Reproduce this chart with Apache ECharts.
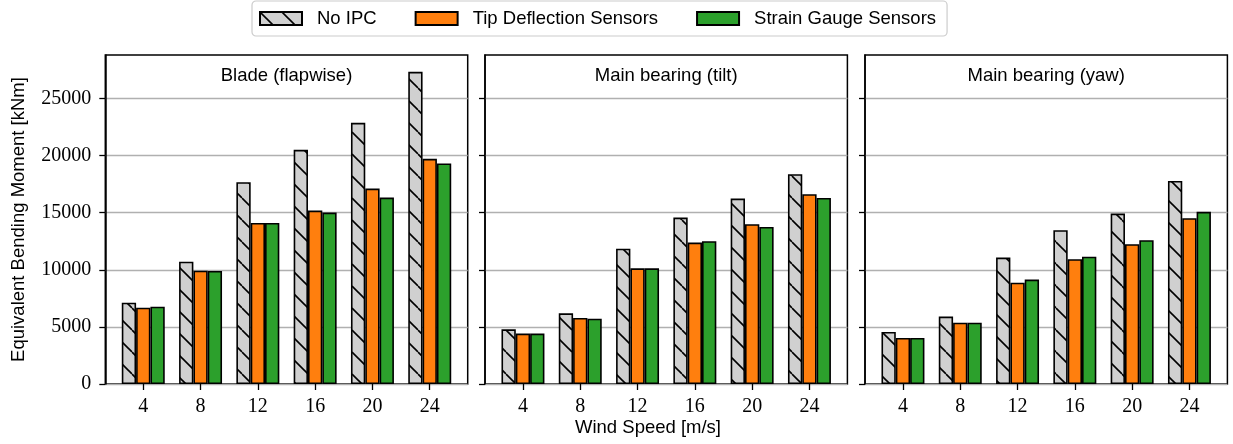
<!DOCTYPE html>
<html>
<head>
<meta charset="utf-8">
<title>Equivalent Bending Moment by Wind Speed</title>
<script src="https://cdn.jsdelivr.net/npm/echarts@6/dist/echarts.min.js"></script>
<style>
  html, body { margin: 0; padding: 0; background: #fff; }
  #chart { width: 1233px; height: 444px; }
</style>
</head>
<body>
<div id="chart"></div>
<script>
// Wind speeds [m/s] on the x axis of every panel
const windSpeeds = ['4', '8', '12', '16', '20', '24'];
const yTicks = [0, 5000, 10000, 15000, 20000, 25000];
const yMax = 28800;

const seriesNames = ['No IPC', 'Tip Deflection Sensors', 'Strain Gauge Sensors'];
const panelTitles = ['Blade (flapwise)', 'Main bearing (tilt)', 'Main bearing (yaw)'];

// Blade root, flapwise [kNm]
const bladeNoIpc   = [7120, 10710, 17670, 20500, 22860, 27330];
const bladeTip     = [6680,  9920, 14100, 15180, 17110, 19710];
const bladeStrain  = [6770,  9900, 14100, 15010, 16320, 19300];
// Main bearing, tilt [kNm]
const tiltNoIpc    = [4790,  6190, 11850, 14570, 16230, 18370];
const tiltTip      = [4410,  5780, 10130, 12380, 13990, 16620];
const tiltStrain   = [4410,  5720, 10130, 12500, 13750, 16290];
// Main bearing, yaw [kNm]
const yawNoIpc     = [4555,  5900, 11070, 13460, 14920, 17780];
const yawTip       = [4030,  5370,  8870, 10920, 12240, 14510];
const yawStrain    = [4030,  5370,  9140, 11150, 12590, 15070];

const panelData = [
  [bladeNoIpc, bladeTip, bladeStrain],
  [tiltNoIpc, tiltTip, tiltStrain],
  [yawNoIpc, yawTip, yawStrain]
];

// Diagonal "\" hatch on light grey
function makeHatch() {
  const P = 22;
  const c = document.createElement('canvas');
  c.width = P; c.height = P;
  const g = c.getContext('2d');
  g.fillStyle = '#d0d0d0';
  g.fillRect(0, 0, P, P);
  g.strokeStyle = '#000';
  g.lineWidth = 1.6;
  for (const k of [-1, 0, 1]) {
    g.beginPath();
    g.moveTo(k * P, 0);
    g.lineTo(k * P + P, P);
    g.stroke();
  }
  return c;
}

const fills = [
  { image: makeHatch(), repeat: 'repeat' },
  '#ff7f0e',
  '#2ca02c'
];

const SANS = 'Liberation Sans';
const SERIF = 'Liberation Serif';
const SANS_SIZE = 18.5;

// Panel layout
const frameLefts = [105.3, 485, 865];
const frameWidth = 362.4;
const frameTop = 55;
const frameHeight = 329;
const unit = frameWidth / 25.3;          // x-units per bar width
const dataInset = 0.65 * unit;
const dataWidth = 24 * unit;

const grids = [], xAxes = [], yAxes = [], series = [], graphics = [];

frameLefts.forEach((left, i) => {
  // frame grid: border, y ticks and horizontal grid lines
  grids.push({
    left: left, top: frameTop, width: frameWidth, height: frameHeight,
    show: true, borderColor: '#000', borderWidth: 1.5, backgroundColor: 'transparent'
  });
  // data grid: the bars
  grids.push({
    left: left + dataInset, top: frameTop, width: dataWidth, height: frameHeight
  });

  xAxes.push({ gridIndex: 2 * i, type: 'value', min: 0, max: 1, show: false });
  yAxes.push({
    gridIndex: 2 * i, type: 'value', min: 0, max: yMax,
    axisLine: { show: true, lineStyle: { color: '#000', width: 1.5 } },
    axisTick: { show: true, length: 6, customValues: yTicks, lineStyle: { color: '#000', width: 1.3 } },
    axisLabel: {
      show: i === 0, customValues: yTicks, margin: 14,
      fontFamily: SERIF, fontSize: 20, color: '#000',
      formatter: v => String(v)
    },
    splitLine: { show: true, lineStyle: { color: '#b0b0b0', width: 1.3 } },
    name: i === 0 ? 'Equivalent Bending Moment [kNm]' : '',
    nameLocation: 'middle',
    nameGap: 77,
    nameTextStyle: { fontFamily: SANS, fontSize: SANS_SIZE, color: '#000' }
  });

  xAxes.push({
    gridIndex: 2 * i + 1, type: 'category', data: windSpeeds,
    axisLine: { show: false },
    axisTick: { show: true, alignWithLabel: true, length: 6, lineStyle: { color: '#000', width: 1.3 } },
    axisLabel: { margin: 13, fontFamily: SERIF, fontSize: 20, color: '#000' },
    splitLine: { show: false }
  });
  yAxes.push({ gridIndex: 2 * i + 1, type: 'value', min: 0, max: yMax, show: false });

  panelData[i].forEach((values, s) => {
    series.push({
      type: 'bar',
      name: seriesNames[s],
      xAxisIndex: 2 * i + 1,
      yAxisIndex: 2 * i + 1,
      data: values,
      barWidth: unit,
      barGap: '0%',
      itemStyle: { color: fills[s], borderColor: '#000', borderWidth: 1.6 },
      emphasis: { disabled: true }
    });
  });

  graphics.push({
    type: 'text',
    x: left + frameWidth / 2, y: 76,
    style: {
      text: panelTitles[i], fill: '#000',
      font: SANS_SIZE + 'px "' + SANS + '"',
      textAlign: 'center', textVerticalAlign: 'middle'
    }
  });
});

graphics.push({
  type: 'text',
  x: 648, y: 428,
  style: {
    text: 'Wind Speed [m/s]', fill: '#000',
    font: SANS_SIZE + 'px "' + SANS + '"',
    textAlign: 'center', textVerticalAlign: 'middle'
  }
});

const chart = echarts.init(document.getElementById('chart'), null, { renderer: 'canvas' });
chart.setOption({
  animation: false,
  backgroundColor: '#fff',
  legend: {
    data: seriesNames,
    left: 252, top: 1,
    orient: 'horizontal',
    icon: 'rect',
    itemWidth: 42, itemHeight: 13,
    itemGap: 38,
    padding: [8, 11, 8, 7],
    borderColor: '#cccccc', borderWidth: 1.2, borderRadius: 4,
    backgroundColor: '#fff',
    textStyle: { fontFamily: SANS, fontSize: SANS_SIZE, color: '#000', padding: [0, 0, 0, 10] }
  },
  grid: grids,
  xAxis: xAxes,
  yAxis: yAxes,
  series: series,
  graphic: graphics
});
</script>
</body>
</html>
